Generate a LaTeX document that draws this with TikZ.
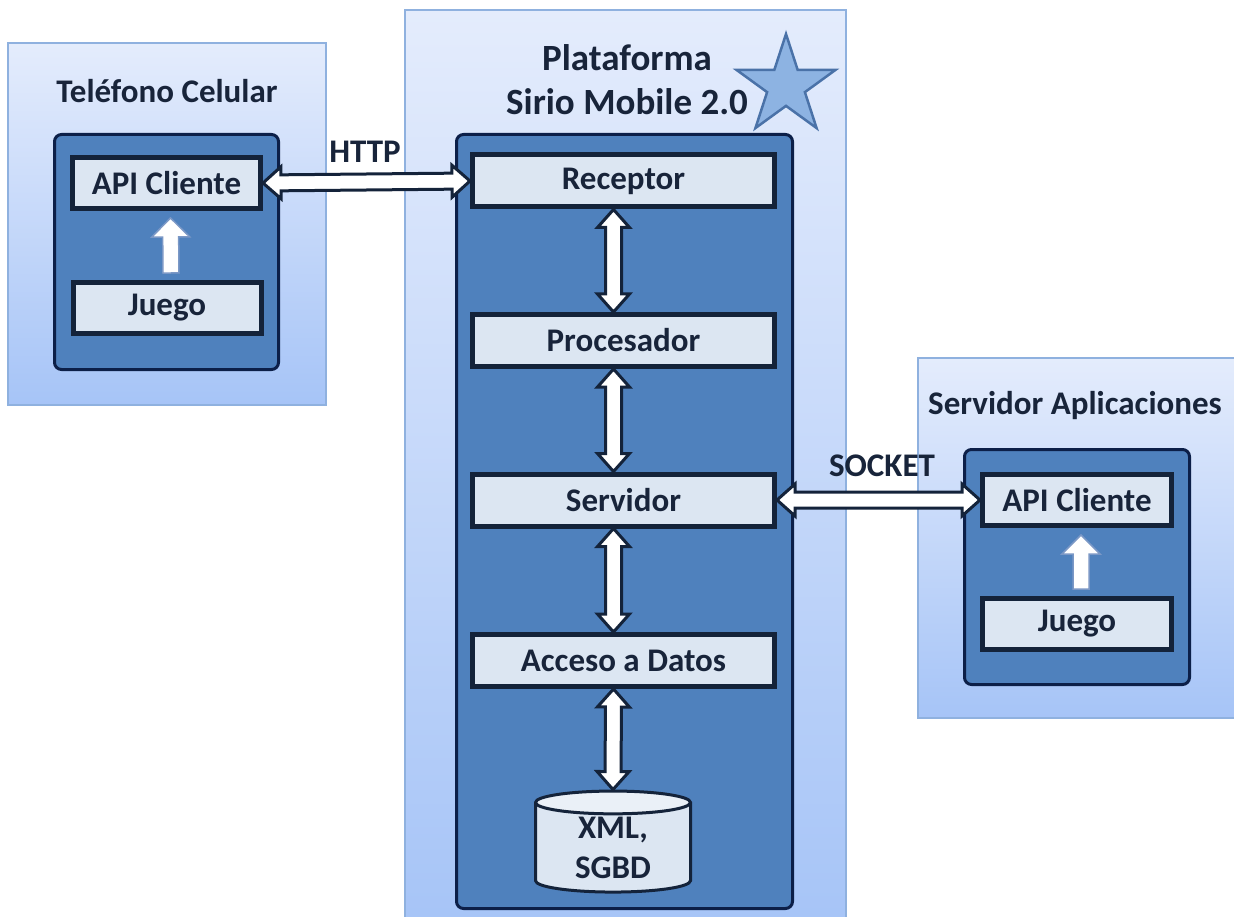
\documentclass[tikz,border=0pt]{standalone}
\usepackage{fontspec}
\setmainfont{Carlito}
\usetikzlibrary{shapes.geometric,calc,shadows}

\definecolor{boxtop}{HTML}{E4ECFC}
\definecolor{boxbot}{HTML}{A6C4F7}
\definecolor{boxline}{HTML}{8FB1DF}
\definecolor{darkfill}{HTML}{4F81BD}
\definecolor{darkline}{HTML}{0C1F48}
\definecolor{lightfill}{HTML}{DCE6F2}
\definecolor{lightline}{HTML}{14233A}
\definecolor{txtcol}{HTML}{18243A}
\definecolor{starfill}{HTML}{8DB3E2}
\definecolor{starline}{HTML}{4A72A8}
\definecolor{smallline}{HTML}{7B98C6}

% double block arrow between two anchors
\newcommand{\dblarrow}[2]{%
  \path ($(#1)!18pt!(#2)$) coordinate (h1) ($(#2)!18pt!(#1)$) coordinate (h2);
  \draw[blockarr] (#1) -- ($(h1)!16pt!90:(#2)$) -- ($(h1)!8pt!90:(#2)$)
    -- ($(h2)!8pt!-90:(#1)$) -- ($(h2)!16pt!-90:(#1)$) -- (#2)
    -- ($(h2)!16pt!90:(#1)$) -- ($(h2)!8pt!90:(#1)$)
    -- ($(h1)!8pt!-90:(#2)$) -- ($(h1)!16pt!-90:(#2)$) -- cycle;}
% single block arrow from #1 to #2
\newcommand{\singlearrow}[2]{%
  \path ($(#2)!19pt!(#1)$) coordinate (h2);
  \draw[smallarr] ($(#1)!8pt!90:(#2)$) -- ($(h2)!8pt!-90:(#1)$) -- ($(h2)!19pt!-90:(#1)$)
    -- (#2) -- ($(h2)!19pt!90:(#1)$) -- ($(h2)!8pt!90:(#1)$) -- ($(#1)!8pt!-90:(#2)$) -- cycle;}

\begin{document}
\begin{tikzpicture}[x=1pt,y=-1pt,
  every node/.style={font=\bfseries\fontsize{33}{40}\selectfont,text=txtcol,inner sep=0pt},
  outerbox/.style={rectangle,draw=boxline,line width=1.5pt,top color=boxtop,bottom color=boxbot},
  darkbox/.style={rectangle,rounded corners=7pt,draw=darkline,line width=3pt,fill=darkfill},
  layer/.style={rectangle,draw=lightline,line width=5pt,fill=lightfill,
    drop shadow={shadow xshift=2pt,shadow yshift=-2pt,opacity=.35}},
  title/.style={align=center},
  blockarr/.style={draw=lightline,line width=3pt,fill=white,line join=miter},
  smallarr/.style={draw=smallline,line width=1.5pt,fill=white,line join=miter}]

  \useasboundingbox (0,0) rectangle (1234,917);

  % containers
  \node[outerbox,minimum width=318,minimum height=362] (phone) at (167,224) {};
  \node[outerbox,minimum width=441,minimum height=920] (platform) at (625.5,470) {};
  \node[outerbox,minimum width=327,minimum height=360] (appserver) at (1081.5,538) {};

  \node[title] (phonetitle) at (167,91) {Teléfono Celular};
  \node[title,font=\bfseries\fontsize{37}{44}\selectfont] (plattitle) at (627,80) {Plataforma\\Sirio Mobile 2.0};
  \node[title] (apptitle) at (1075,406) {Servidor Aplicaciones};
  \node[star,star points=5,star point ratio=2.618,minimum size=104,fill=starfill,draw=starline,line width=2.5pt] (star) at (786,86) {};

  \node[darkbox,minimum width=224,minimum height=235] (phonecore) at (166.5,252) {};
  \node[darkbox,minimum width=336,minimum height=774] (platcore) at (624.5,521.5) {};
  \node[darkbox,minimum width=225,minimum height=235] (appcore) at (1077,567) {};

  % layers
  \node[layer,minimum width=188,minimum height=51] (api1) at (166.5,183) {API Cliente};
  \node[layer,minimum width=188,minimum height=51] (game1) at (167,308) {Juego};

  \node[layer,minimum width=302,minimum height=52] (rec) at (623.5,181) {Receptor};
  \node[layer,minimum width=302,minimum height=52] (proc) at (623.5,340.5) {Procesador};
  \node[layer,minimum width=302,minimum height=52] (serv) at (623.5,500) {Servidor};
  \node[layer,minimum width=302,minimum height=52] (data) at (623.5,660.5) {Acceso a Datos};
  \node[cylinder,shape border rotate=90,aspect=0.3,draw=lightline,line width=3pt,
    cylinder uses custom fill,cylinder body fill=lightfill,cylinder end fill=lightfill!60!white,
    minimum width=155,minimum height=101,align=center] (db) at (613,848) {XML,\\SGBD};

  \node[layer,minimum width=189,minimum height=51] (api2) at (1077,500) {API Cliente};
  \node[layer,minimum width=189,minimum height=51] (game2) at (1077,624) {Juego};

  % connectors
  \dblarrow{api1.east}{rec.west}
  \dblarrow{serv.east}{api2.west}
  \dblarrow{$(rec.south)+(-10,0)$}{$(proc.north)+(-10,0)$}
  \dblarrow{$(proc.south)+(-10,0)$}{$(serv.north)+(-10,0)$}
  \dblarrow{$(serv.south)+(-10,0)$}{$(data.north)+(-10,0)$}
  \dblarrow{$(data.south)+(-10,0)$}{db.top}
  \singlearrow{$(game1.north)+(4,-7)$}{$(api1.south)+(4,7)$}
  \singlearrow{$(game2.north)+(4,-7)$}{$(api2.south)+(4,7)$}

  \node (http) at (365,152) {HTTP};
  \node (socket) at (882,466) {SOCKET};

\end{tikzpicture}
\end{document}
